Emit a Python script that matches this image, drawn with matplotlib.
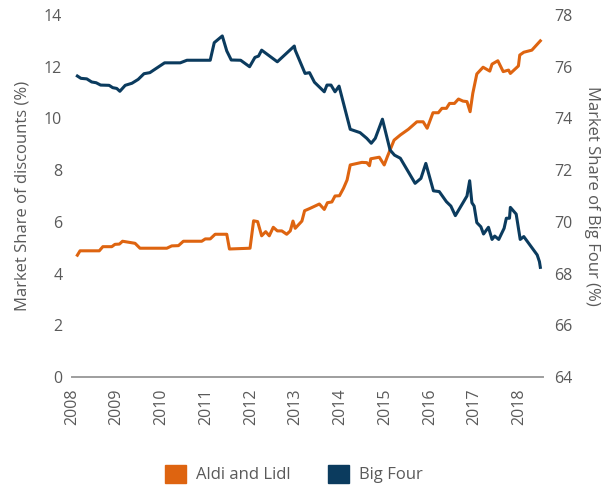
import matplotlib.pyplot as plt
from matplotlib.patches import Patch

plt.rcParams['font.family'] = ['Open Sans', 'DejaVu Sans']

# Aldi and Lidl share (%), left axis
aldi_years = [2008.12, 2008.18, 2008.61, 2008.69, 2008.89, 2008.96, 2009.06, 2009.13,
              2009.41, 2009.52, 2010.12, 2010.23, 2010.38, 2010.49, 2010.90, 2010.98,
              2011.09, 2011.20, 2011.46, 2011.52, 2011.98, 2012.06, 2012.15, 2012.24,
              2012.33, 2012.41, 2012.50, 2012.59, 2012.69, 2012.80, 2012.88, 2012.94,
              2012.99, 2013.14, 2013.20, 2013.32, 2013.53, 2013.64, 2013.71, 2013.81,
              2013.88, 2013.98, 2014.07, 2014.15, 2014.22, 2014.48, 2014.59, 2014.65,
              2014.68, 2014.87, 2014.98, 2015.05, 2015.20, 2015.34, 2015.52, 2015.71,
              2015.85, 2015.94, 2016.07, 2016.19, 2016.27, 2016.37, 2016.44, 2016.55,
              2016.64, 2016.74, 2016.83, 2016.90, 2016.96, 2017.05, 2017.19, 2017.34,
              2017.39, 2017.52, 2017.64, 2017.76, 2017.80, 2017.98, 2018.01, 2018.10,
              2018.28, 2018.47]
aldi_share = [4.71, 4.88, 4.88, 5.04, 5.04, 5.13, 5.14, 5.25,
              5.17, 4.98, 4.98, 5.07, 5.08, 5.25, 5.25, 5.34,
              5.34, 5.52, 5.52, 4.95, 4.98, 6.04, 6.01, 5.46,
              5.62, 5.46, 5.79, 5.65, 5.65, 5.52, 5.65, 6.03,
              5.75, 6.03, 6.43, 6.52, 6.69, 6.48, 6.74, 6.77,
              7.00, 7.01, 7.30, 7.62, 8.20, 8.30, 8.29, 8.17,
              8.44, 8.50, 8.20, 8.52, 9.16, 9.36, 9.58, 9.87,
              9.87, 9.62, 10.22, 10.22, 10.39, 10.39, 10.58, 10.58,
              10.75, 10.67, 10.65, 10.26, 10.97, 11.72, 11.98, 11.83,
              12.10, 12.23, 11.81, 11.87, 11.74, 12.03, 12.45, 12.56,
              12.64, 13.00]

# Big Four share (%), right axis
big4_years = [2008.12, 2008.20, 2008.33, 2008.44, 2008.54, 2008.64, 2008.83, 2008.91,
              2009.00, 2009.07, 2009.19, 2009.34, 2009.48, 2009.61, 2009.74, 2010.07,
              2010.42, 2010.57, 2011.09, 2011.18, 2011.36, 2011.46, 2011.56, 2011.77,
              2011.97, 2012.09, 2012.17, 2012.24, 2012.59, 2012.97, 2012.99, 2013.21,
              2013.31, 2013.42, 2013.64, 2013.70, 2013.79, 2013.88, 2013.97, 2014.22,
              2014.44, 2014.59, 2014.69, 2014.78, 2014.94, 2015.11, 2015.21, 2015.34,
              2015.67, 2015.80, 2015.91, 2016.08, 2016.21, 2016.37, 2016.47, 2016.57,
              2016.83, 2016.89, 2016.94, 2016.99, 2017.05, 2017.14, 2017.20, 2017.31,
              2017.39, 2017.45, 2017.54, 2017.66, 2017.71, 2017.78, 2017.80, 2017.93,
              2018.02, 2018.10, 2018.40, 2018.45, 2018.47]
big4_share = [75.64, 75.55, 75.53, 75.41, 75.38, 75.29, 75.28, 75.19,
              75.16, 75.05, 75.28, 75.36, 75.51, 75.73, 75.77, 76.15,
              76.15, 76.25, 76.25, 76.93, 77.19, 76.61, 76.26, 76.25,
              76.00, 76.36, 76.41, 76.64, 76.19, 76.80, 76.64, 75.74,
              75.77, 75.40, 75.03, 75.29, 75.29, 75.03, 75.25, 73.58,
              73.45, 73.23, 73.04, 73.23, 73.97, 72.78, 72.58, 72.46,
              71.49, 71.68, 72.26, 71.20, 71.17, 70.78, 70.61, 70.24,
              71.00, 71.59, 70.74, 70.61, 69.97, 69.81, 69.53, 69.79,
              69.32, 69.45, 69.32, 69.75, 70.14, 70.14, 70.56, 70.30,
              69.32, 69.43, 68.72, 68.46, 68.24]

year_ticks = list(range(2008, 2019))
left_ticks = list(range(0, 15, 2))
right_ticks = list(range(64, 79, 2))

orange = '#DE6410'
navy = '#0B3B5E'
grey = '#5a5a5a'

fig = plt.figure(figsize=(6.07, 4.87), dpi=100)
ax = fig.add_axes([0.1186, 0.2259, 0.7760, 0.7433])
ax2 = ax.twinx()

ax.plot(aldi_years, aldi_share, color=orange, lw=2.2, zorder=3)
ax2.plot(big4_years, big4_share, color=navy, lw=2.2)

ax.set_xlim(2008, 2018.53)
ax.set_ylim(0, 14)
ax2.set_ylim(64, 78)
ax.set_yticks(left_ticks)
ax2.set_yticks(right_ticks)
ax.set_xticks(year_ticks)
ax.set_xticklabels([str(y) for y in year_ticks], rotation=90)

for a in (ax, ax2):
    for s in ('top', 'left', 'right'):
        a.spines[s].set_visible(False)
    a.spines['bottom'].set_color('#a0a0a0')
    a.spines['bottom'].set_linewidth(1.3)
    a.tick_params(length=0, labelsize=11.5, colors=grey)
ax.tick_params(axis='y', pad=7)
ax2.tick_params(axis='y', pad=8)
ax.tick_params(axis='x', pad=8)

ax.set_ylabel('Market Share of discounts (%)', fontsize=12, color=grey, labelpad=10)
ax2.set_ylabel('Market Share of Big Four (%)', fontsize=12, color=grey,
               rotation=-90, labelpad=20)

handles = [Patch(color=orange, label='Aldi and Lidl'),
           Patch(color=navy, label='Big Four')]
leg = fig.legend(handles=handles, loc='center', bbox_to_anchor=(0.484, 0.027),
                 ncol=2, frameon=False, fontsize=12, handlelength=1.3,
                 handleheight=1.3, handletextpad=0.6, columnspacing=2.2)
for t in leg.get_texts():
    t.set_color(grey)

fig.savefig('out.png', dpi=100)
